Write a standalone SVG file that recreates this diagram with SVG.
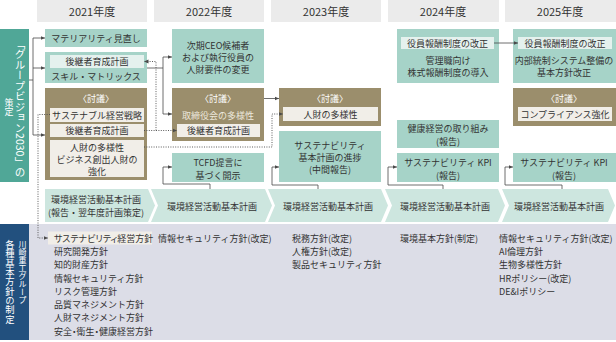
<svg xmlns="http://www.w3.org/2000/svg" width="616" height="342" viewBox="0 0 616 342">
<defs>
<style>
text{font-family:"Noto Sans CJK JP","Noto Sans",sans-serif;font-size:9px;fill:#333;text-anchor:middle;dominant-baseline:central}
.yr{font-size:11px}
.hd{fill:#ebebeb}
.tl{fill:#a6d3c8}
.ol{fill:#9b8e6c}
.in{fill:#f1eee8}
.it{fill:#e5f1ee}
.ch{fill:#cde6df}
.w{fill:#fff}
.lt{fill:#ece8dc}
.l{text-anchor:start}
.p{font-feature-settings:"palt"}
.v{writing-mode:vertical-rl;fill:#fff}
.ln{fill:none;stroke:#4a4a4a;stroke-width:0.8}
.dt{fill:none;stroke:#4a4a4a;stroke-width:0.9;stroke-dasharray:1 1.4}
</style>
<marker id="ah" markerWidth="5" markerHeight="5" refX="4.5" refY="2.5" orient="auto" markerUnits="userSpaceOnUse"><path d="M0,0.5 L4.5,2.5 L0,4.5z" fill="#4a4a4a"/></marker>
</defs>
<rect width="616" height="342" fill="#fff"/>

<g id="headers">
<rect class="hd" x="37" y="0" width="110" height="22"/><text class="yr" x="92" y="11">2021年度</text>
<rect class="hd" x="154" y="0" width="110" height="22"/><text class="yr" x="209" y="11">2022年度</text>
<rect class="hd" x="271" y="0" width="110" height="22"/><text class="yr" x="326" y="11">2023年度</text>
<rect class="hd" x="388" y="0" width="111" height="22"/><text class="yr" x="443" y="11">2024年度</text>
<rect class="hd" x="505" y="0" width="111" height="22"/><text class="yr" x="560" y="11">2025年度</text>
</g>

<g id="vision-bar">
<rect x="0" y="29" width="29" height="153" fill="#50a797"/>
<text class="v" x="20" y="108" style="font-size:10.5px">「グループビジョン2030」の</text>
<text class="v" x="9" y="107">策定</text>
</g>

<g id="policy-area">
<rect x="0" y="224" width="616" height="116" fill="#dcdde7"/>
<rect x="0" y="224" width="29" height="116" fill="#22507e"/>
<text class="v" x="22.5" y="240" style="font-size:8px;text-anchor:start">川崎重工グループ</text>
<text class="v" x="10" y="240" style="font-size:9.3px;text-anchor:start">各種基本方針の制定</text>
</g>

<g id="n2021-materiality">
<rect class="tl" x="45" y="29" width="102" height="18"/>
<text x="96" y="38">マテリアリティ見直し</text>
</g>
<g id="n2021-succession">
<rect class="tl" x="45" y="52" width="102" height="31"/>
<rect class="it" x="50" y="55" width="94" height="13"/>
<text x="97" y="61.5">後継者育成計画</text>
<text x="96" y="76">スキル・マトリックス</text>
</g>
<g id="n2021-discussion">
<rect class="ol" x="45" y="88" width="102" height="92"/>
<text class="w" x="96" y="98">〈討議〉</text>
<rect class="in" x="50" y="108" width="94" height="14"/>
<text x="97" y="115">サステナブル経営戦略</text>
<rect class="in" x="50" y="124" width="94" height="13"/>
<text x="97" y="130.5">後継者育成計画</text>
<rect class="in" x="50" y="140" width="94" height="37"/>
<text x="97" y="147">人財の多様性</text>
<text x="97" y="159">ビジネス創出人財の</text>
<text x="97" y="171">強化</text>
</g>

<g id="n2022-ceo">
<rect class="tl" x="172" y="29" width="92" height="54"/>
<text x="218" y="45">次期CEO候補者</text>
<text x="218" y="57">および執行役員の</text>
<text x="218" y="69">人財要件の変更</text>
</g>
<g id="n2022-discussion">
<rect class="ol" x="172" y="88" width="92" height="53"/>
<text class="w" x="218" y="98">〈討議〉</text>
<text class="lt" x="218" y="115">取締役会の多様性</text>
<rect class="in" x="177" y="124" width="83" height="13"/>
<text x="218.5" y="130.5">後継者育成計画</text>
</g>
<g id="n2022-tcfd">
<rect class="tl" x="172" y="153" width="92" height="29"/>
<text x="218" y="162">TCFD提言に</text>
<text x="218" y="175">基づく開示</text>
</g>

<g id="n2023-discussion">
<rect class="ol" x="279" y="88" width="102" height="38"/>
<text class="w" x="330" y="98">〈討議〉</text>
<rect class="in" x="283" y="107" width="95" height="14"/>
<text x="330.5" y="114">人財の多様性</text>
</g>
<g id="n2023-sustain">
<rect class="tl" x="279" y="131" width="102" height="51"/>
<text x="330" y="145">サステナビリティ</text>
<text x="330" y="157">基本計画の進捗</text>
<text x="330" y="169">(中間報告)</text>
</g>

<g id="n2024-remuneration">
<rect class="tl" x="397" y="29" width="102" height="54"/>
<rect class="it" x="401" y="37" width="93" height="12"/>
<text x="447.5" y="43">役員報酬制度の改正</text>
<text x="448" y="60">管理職向け</text>
<text x="448" y="72">株式報酬制度の導入</text>
</g>
<g id="n2024-health">
<rect class="tl" x="397" y="120" width="102" height="28"/>
<text x="448" y="128">健康経営の取り組み</text>
<text x="448" y="141">(報告)</text>
</g>
<g id="n2024-kpi">
<rect class="tl" x="397" y="153" width="102" height="29"/>
<text x="448" y="162">サステナビリティ KPI</text>
<text x="448" y="175">(報告)</text>
</g>

<g id="n2025-remuneration">
<rect class="tl" x="513" y="29" width="103" height="54"/>
<rect class="it" x="518" y="37" width="94" height="12"/>
<text x="565" y="43">役員報酬制度の改正</text>
<text x="564" y="60">内部統制システム整備の</text>
<text x="564" y="72">基本方針改正</text>
</g>
<g id="n2025-discussion">
<rect class="ol" x="513" y="88" width="103" height="38"/>
<text class="w" x="564" y="98">〈討議〉</text>
<rect class="in" x="518" y="107" width="94" height="14"/>
<text x="565" y="114">コンプライアンス強化</text>
</g>
<g id="n2025-kpi">
<rect class="tl" x="513" y="153" width="103" height="29"/>
<text x="564" y="162">サステナビリティ KPI</text>
<text x="564" y="175">(報告)</text>
</g>

<g id="env-plan-2021">
<polygon class="ch" points="45,189 148,189 155,205.5 148,222 45,222"/>
<text x="96" y="199">環境経営活動基本計画</text>
<text x="96" y="212">(報告・翌年度計画策定)</text>
</g>
<g id="env-plan-2022">
<polygon class="ch" points="151,189 265,189 272,205.5 265,222 151,222 158,205.5"/>
<text x="212" y="206">環境経営活動基本計画</text>
</g>
<g id="env-plan-2023">
<polygon class="ch" points="268,189 381,189 388,205.5 381,222 268,222 275,205.5"/>
<text x="328" y="206">環境経営活動基本計画</text>
</g>
<g id="env-plan-2024">
<polygon class="ch" points="385,189 498,189 505,205.5 498,222 385,222 392,205.5"/>
<text x="445" y="206">環境経営活動基本計画</text>
</g>
<g id="env-plan-2025">
<polygon class="ch" points="502,189 608,189 615,205.5 608,222 502,222 509,205.5"/>
<text x="559" y="206">環境経営活動基本計画</text>
</g>

<g id="policies-2021">
<rect class="in" x="48" y="231.5" width="104" height="13"/>
<text class="l p" x="54" y="238">サステナビリティ経営方針</text>
<text class="l" x="54" y="251.5">研究開発方針</text>
<text class="l" x="54" y="264.8">知的財産方針</text>
<text class="l" x="54" y="278">情報セキュリティ方針</text>
<text class="l" x="54" y="291.3">リスク管理方針</text>
<text class="l" x="54" y="304.6">品質マネジメント方針</text>
<text class="l" x="54" y="317.9">人財マネジメント方針</text>
<text class="l p" x="54" y="331.2">安全・衛生・健康経営方針</text>
</g>
<g id="policies-2022">
<text class="l" x="158" y="238">情報セキュリティ方針(改定)</text>
</g>
<g id="policies-2023">
<text class="l" x="292" y="238">税務方針(改定)</text>
<text class="l" x="292" y="251.5">人権方針(改定)</text>
<text class="l" x="292" y="264.8">製品セキュリティ方針</text>
</g>
<g id="policies-2024">
<text class="l" x="400" y="238">環境基本方針(制定)</text>
</g>
<g id="policies-2025">
<text class="l" x="499" y="238">情報セキュリティ方針(改定)</text>
<text class="l" x="499" y="251.5">AI倫理方針</text>
<text class="l" x="499" y="264.8">生物多様性方針</text>
<text class="l" x="499" y="278">HRポリシー(改定)</text>
<text class="l" x="499" y="291.3">DE&amp;Iポリシー</text>
</g>

<g id="connectors">
<path class="ln" d="M29,80 H33 M33,38 V135"/>
<path class="ln" d="M33,38 H45" marker-end="url(#ah)"/>
<path class="ln" d="M33,68 H45" marker-end="url(#ah)"/>
<path class="ln" d="M33,135 H45" marker-end="url(#ah)"/>
<path class="ln" d="M147,68 H163 M163,57 V114"/>
<path class="ln" d="M163,57 H172" marker-end="url(#ah)"/>
<path class="ln" d="M163,114 H172" marker-end="url(#ah)"/>
<path class="ln" d="M264,98.5 H279" marker-end="url(#ah)"/>
<path class="ln" d="M494,43 H518" marker-end="url(#ah)"/>
<path class="ln" d="M210,189 V184 H163 V167 H172" marker-end="url(#ah)"/>
<path class="ln" d="M318,189 V185 H272 V167 H279" marker-end="url(#ah)"/>
<path class="ln" d="M443,189 V185 H388 V167 H397" marker-end="url(#ah)"/>
<path class="ln" d="M562,189 V185 H505 V167 H513" marker-end="url(#ah)"/>
<path class="dt" d="M50,114.5 H38 V238 H48" marker-end="url(#ah)"/>
<path class="dt" d="M156,130.5 V61.5 H144" marker-end="url(#ah)"/>
<path class="dt" d="M144,130.5 H177" marker-end="url(#ah)"/>
<path class="dt" d="M144,147 H272 V114 H283" marker-end="url(#ah)"/>
</g>
</svg>
